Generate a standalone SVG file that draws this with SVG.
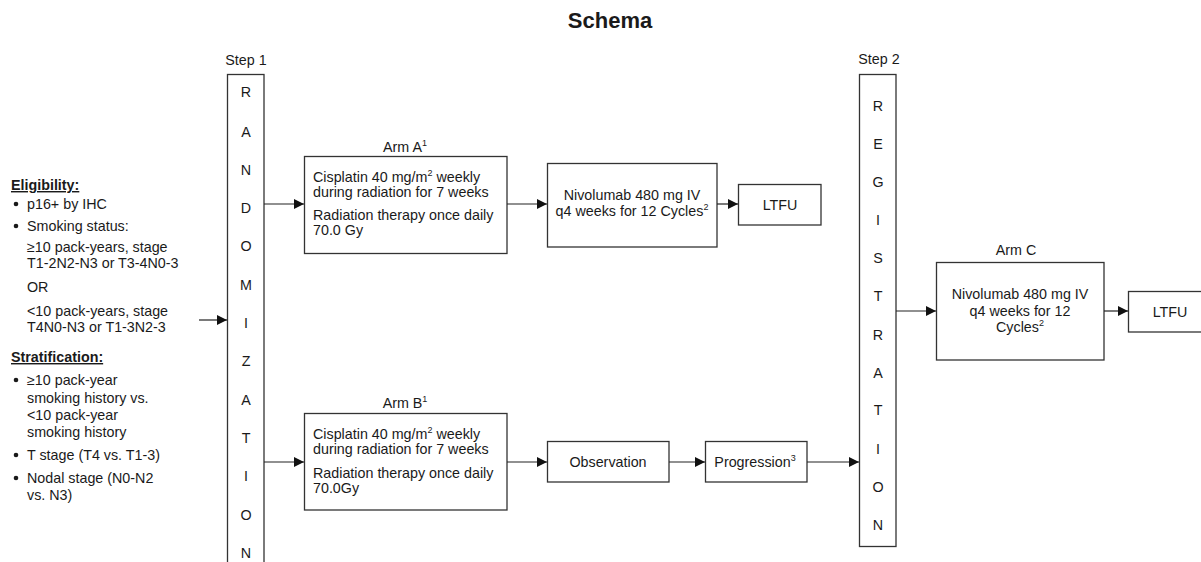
<svg xmlns="http://www.w3.org/2000/svg" width="1201" height="562" viewBox="0 0 1201 562">
<defs>
<marker id="arr" viewBox="0 0 10 10" refX="10" refY="5" markerWidth="10" markerHeight="10" markerUnits="userSpaceOnUse" orient="auto">
<path d="M0,0 L10,5 L0,10 z" fill="#111"/>
</marker>
<style>
text{font-family:"Liberation Sans",Arial,sans-serif;font-size:14.3px;fill:#1a1a1a}
.t{font-size:22px;font-weight:bold}
.h{font-weight:bold;text-decoration:underline}
.c{text-anchor:middle}
.box{fill:#fff;stroke:#333;stroke-width:1.3}
.ln{stroke:#222;stroke-width:1.2;fill:none;marker-end:url(#arr)}
.sup{font-size:9px}
</style>
</defs>
<rect width="1201" height="562" fill="#fff"/>
<text class="t c" x="610" y="28">Schema</text>

<g id="criteria">
<text class="h" x="11" y="190">Eligibility:</text>
<circle cx="16" cy="204" r="2.3" fill="#1a1a1a"/>
<text x="27" y="209">p16+ by IHC</text>
<circle cx="16" cy="226" r="2.3" fill="#1a1a1a"/>
<text x="27" y="231">Smoking status:</text>
<text x="27" y="252">≥10 pack-years, stage</text>
<text x="27" y="268">T1-2N2-N3 or T3-4N0-3</text>
<text x="27" y="292">OR</text>
<text x="27" y="316">&lt;10 pack-years, stage</text>
<text x="27" y="332">T4N0-N3 or T1-3N2-3</text>
<text class="h" x="11" y="362">Stratification:</text>
<circle cx="16" cy="380" r="2.3" fill="#1a1a1a"/>
<text x="27" y="385">≥10 pack-year</text>
<text x="27" y="403">smoking history vs.</text>
<text x="27" y="420">&lt;10 pack-year</text>
<text x="27" y="437">smoking history</text>
<circle cx="16" cy="455" r="2.3" fill="#1a1a1a"/>
<text x="27" y="460">T stage (T4 vs. T1-3)</text>
<circle cx="16" cy="478" r="2.3" fill="#1a1a1a"/>
<text x="27" y="483">Nodal stage (N0-N2</text>
<text x="27" y="500">vs. N3)</text>
</g>

<g id="randomization">
<text class="c" x="246" y="65">Step 1</text>
<rect class="box" x="227.5" y="74.5" width="36.5" height="500"/>
<text class="c" x="246" y="97">R</text>
<text class="c" x="246" y="137">A</text>
<text class="c" x="246" y="175">N</text>
<text class="c" x="246" y="213">D</text>
<text class="c" x="246" y="251">O</text>
<text class="c" x="246" y="290">M</text>
<text class="c" x="246" y="328">I</text>
<text class="c" x="246" y="366">Z</text>
<text class="c" x="246" y="405">A</text>
<text class="c" x="246" y="443">T</text>
<text class="c" x="246" y="481">I</text>
<text class="c" x="246" y="520">O</text>
<text class="c" x="246" y="558">N</text>
</g>

<g id="armA">
<text class="c" x="405" y="152">Arm A<tspan class="sup" dy="-6">1</tspan></text>
<rect class="box" x="304.5" y="156.5" width="202.5" height="97"/>
<text x="313" y="182">Cisplatin 40 mg/m<tspan class="sup" dy="-6">2</tspan><tspan dy="6"> weekly</tspan></text>
<text x="313" y="197">during radiation for 7 weeks</text>
<text x="313" y="220">Radiation therapy once daily</text>
<text x="313" y="235">70.0 Gy</text>
</g>

<g id="nivoA">
<rect class="box" x="547.5" y="163.5" width="169.5" height="83.5"/>
<text class="c" x="632" y="200">Nivolumab 480 mg IV</text>
<text class="c" x="632" y="216">q4 weeks for 12 Cycles<tspan class="sup" dy="-6">2</tspan></text>
</g>

<g id="ltfuA">
<rect class="box" x="738.5" y="184.5" width="82.5" height="40.5"/>
<text class="c" x="780" y="210">LTFU</text>
</g>

<g id="armB">
<text class="c" x="405" y="408">Arm B<tspan class="sup" dy="-6">1</tspan></text>
<rect class="box" x="304.5" y="413.5" width="202.5" height="96.5"/>
<text x="313" y="439">Cisplatin 40 mg/m<tspan class="sup" dy="-6">2</tspan><tspan dy="6"> weekly</tspan></text>
<text x="313" y="454">during radiation for 7 weeks</text>
<text x="313" y="478">Radiation therapy once daily</text>
<text x="313" y="493">70.0Gy</text>
</g>

<g id="observation">
<rect class="box" x="547.5" y="441.5" width="121.5" height="40.5"/>
<text class="c" x="608" y="467">Observation</text>
</g>

<g id="progression">
<rect class="box" x="705.5" y="441.5" width="101.5" height="40.5"/>
<text class="c" x="755" y="467">Progression<tspan class="sup" dy="-6">3</tspan></text>
</g>

<g id="registration">
<text class="c" x="879" y="64">Step 2</text>
<rect class="box" x="859.5" y="74.5" width="36.5" height="472"/>
<text class="c" x="878" y="111">R</text>
<text class="c" x="878" y="149">E</text>
<text class="c" x="878" y="187">G</text>
<text class="c" x="878" y="225">I</text>
<text class="c" x="878" y="263">S</text>
<text class="c" x="878" y="301">T</text>
<text class="c" x="878" y="340">R</text>
<text class="c" x="878" y="378">A</text>
<text class="c" x="878" y="415">T</text>
<text class="c" x="878" y="454">I</text>
<text class="c" x="878" y="492">O</text>
<text class="c" x="878" y="530">N</text>
</g>

<g id="armC">
<text class="c" x="1016" y="255">Arm C</text>
<rect class="box" x="936.5" y="262.5" width="167.5" height="97.5"/>
<text class="c" x="1020" y="299">Nivolumab 480 mg IV</text>
<text class="c" x="1020" y="316">q4 weeks for 12</text>
<text class="c" x="1020" y="332">Cycles<tspan class="sup" dy="-6">2</tspan></text>
</g>

<g id="ltfuC">
<rect class="box" x="1128.5" y="291.5" width="80" height="40.5"/>
<text class="c" x="1170" y="317">LTFU</text>
</g>

<g id="connectors">
<line class="ln" x1="199" y1="320" x2="227" y2="320"/>
<line class="ln" x1="264" y1="204" x2="304" y2="204"/>
<line class="ln" x1="507" y1="204" x2="547" y2="204"/>
<line class="ln" x1="717" y1="204" x2="738" y2="204"/>
<line class="ln" x1="264" y1="462" x2="304" y2="462"/>
<line class="ln" x1="507" y1="462" x2="547" y2="462"/>
<line class="ln" x1="669" y1="462" x2="705" y2="462"/>
<line class="ln" x1="807" y1="462" x2="859" y2="462"/>
<line class="ln" x1="896" y1="311" x2="936" y2="311"/>
<line class="ln" x1="1104" y1="311" x2="1128" y2="311"/>
</g>
</svg>
